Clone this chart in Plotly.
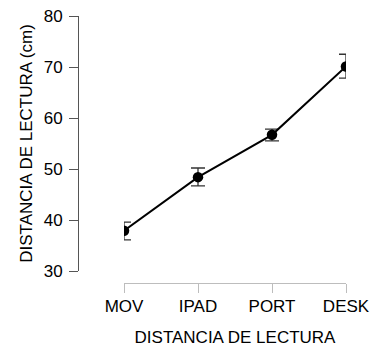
import plotly.graph_objects as go

categories = ["MOV", "IPAD", "PORT", "DESK"]
means = [37.9, 48.4, 56.7, 70.1]
err_plus = [1.7, 1.8, 1.1, 2.4]
err_minus = [1.8, 1.7, 1.2, 2.3]
y_ticks = [30, 40, 50, 60, 70, 80]

W, H = 374, 347
FONT = "Liberation Sans, Arial, sans-serif"


def px_x(x):
    return x / W


def px_y(y):
    return 1 - y / H


fig = go.Figure()
fig.add_trace(go.Scatter(
    x=categories, y=means,
    mode="lines+markers",
    line=dict(color="black", width=2),
    marker=dict(color="black", size=10.5),
    error_y=dict(type="data", symmetric=False, array=err_plus, arrayminus=err_minus,
                 color="#333333", thickness=1.3, width=7),
    showlegend=False,
))

fig.update_layout(
    width=W, height=H,
    margin=dict(l=0, r=0, t=0, b=0),
    paper_bgcolor="white", plot_bgcolor="white",
    font=dict(family=FONT, size=17, color="black"),
    xaxis=dict(
        domain=[px_x(124), px_x(346)],
        range=[0, 3],
        anchor="free", position=px_y(282.5),
        automargin=False,
        showline=True, linecolor="#bdbdbd", linewidth=1,
        ticks="outside", ticklen=9, tickcolor="#bdbdbd", tickwidth=1,
        ticklabelstandoff=-1,
        showgrid=False, zeroline=False,
        tickfont=dict(size=17),
        title=dict(text="DISTANCIA DE LECTURA", font=dict(size=17), standoff=16),
    ),
    yaxis=dict(
        domain=[px_y(271), px_y(16)],
        range=[30, 80],
        tickvals=y_ticks,
        anchor="free", position=px_x(78),
        automargin=False,
        showline=True, linecolor="#555555", linewidth=1,
        ticks="outside", ticklen=9, tickcolor="#555555", tickwidth=1,
        ticklabelstandoff=3,
        ticklabeloverflow="allow",
        showgrid=False, zeroline=False,
        tickfont=dict(size=17),
        title=dict(text="DISTANCIA DE LECTURA (cm)", font=dict(size=17), standoff=5),
    ),
)
fig.update_xaxes(type="category", categoryarray=categories)

fig.write_html(
    "out.html",
    config={"displayModeBar": False},
    post_script="document.body.style.margin='0';document.body.style.overflow='hidden';",
)
